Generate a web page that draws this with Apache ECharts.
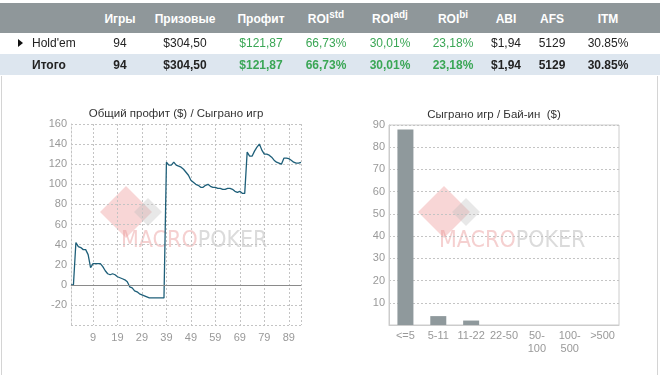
<!DOCTYPE html>
<html><head><meta charset="utf-8">
<script src="https://cdn.jsdelivr.net/npm/echarts@6/dist/echarts.min.js"></script>
<style>
html,body{margin:0;padding:0;background:#fff;width:660px;height:375px;overflow:hidden;}
#chart{position:absolute;left:0;top:0;width:660px;height:375px;}
#tbl{position:absolute;left:0;top:0;width:660px;height:76px;font-family:"Liberation Sans",Arial,sans-serif;font-size:12px;color:#222;}
.row{position:absolute;left:0;width:660px;}
.c{position:absolute;transform:translateX(-50%);white-space:nowrap;}
.hd{top:3px;height:30px;background:#8f979a;color:#fff;font-weight:bold;}
.hd .c{top:9px;}
.r1{top:33px;height:21px;}
.r1 .c{top:3px;}
.r2{top:54px;height:21px;background:#dde6ef;font-weight:bold;}
.r2 .c{top:4px;}
.g{color:#3aa655;}
sup{font-size:10px;line-height:0;}
</style></head>
<body>
<div id="chart"></div>
<div id="tbl"></div>
<script>
// ---- table data ----
const tableCols = ["Игры","Призовые","Профит","ROI|std","ROI|adj","ROI|bi","ABI","AFS","ITM"];
const rowNames = ["Hold'em","Итого"];
const rowValues = ["94","$304,50","$121,87","66,73%","30,01%","23,18%","$1,94","5129","30.85%"];
const greenCols = [2,3,4,5];

// ---- line chart data: cumulative profit by games played ----
const profit = [0,0,42,38,37,35,35,30,17,21,21,21,21,18,14,11,10,11,10,8,7,6,5,3,-2,-3,-6,-7,-9,-10,-11,-12,-13,-13,-13,-13,-13,-13,-13,122,119,119,122,119,118,117,115,112,109,104,102,100,99,97,97,99,100,98,97,97,96,96,95,95,96,96,95,93,92,93,91,91,132,128,128,133,137,140,134,130,130,129,127,124,122,121,120,126,126,125.5,124,122,121,121,121.87];
const xTickLabels = [9,19,29,39,49,59,69,79,89];

// ---- bar chart data ----
const buyinCats = ["<=5","5-11","11-22","22-50","50-\n100","100-\n500",">500"];
const buyinGames = [88,4,2,0,0,0,0];

// ---- build table ----
const colX = [120,185,261,326,390,453,506,552,608];
const tbl = document.getElementById('tbl');
function colHtml(i,txt,cls){
  return '<div class="c '+(cls||'')+'" style="left:'+colX[i]+'px">'+txt+'</div>';
}
let h = '<div class="row hd">';
tableCols.forEach((t,i)=>{
  const p = t.split('|');
  h += colHtml(i, p.length>1 ? p[0]+'<sup>'+p[1]+'</sup>' : p[0]);
});
h += '</div>';
['r1','r2'].forEach((rc,ri)=>{
  h += '<div class="row '+rc+'">';
  if(ri===0) h += '<div style="position:absolute;left:18px;top:6px;width:0;height:0;border-top:4px solid transparent;border-bottom:4px solid transparent;border-left:5px solid #111;"></div>';
  h += '<div style="position:absolute;left:32px;top:'+(ri===0?3:4)+'px">'+rowNames[ri]+'</div>';
  rowValues.forEach((v,i)=>{ h += colHtml(i,v,greenCols.includes(i)?'g':''); });
  h += '</div>';
});
tbl.innerHTML = h;

// ---- chart ----
const games = profit.map((_,i)=>i);
const lastGame = games.length-1;
const chart = echarts.init(document.getElementById('chart'),null,{renderer:'canvas'});
const axisTxt = {color:'#999',fontSize:11,fontFamily:'"Liberation Sans",Arial,sans-serif'};
const dotted = {color:'#c4c4c4',type:[2,2],width:1};
const wmFont = '"Liberation Sans Narrow","DejaVu Sans Condensed",Arial,sans-serif';

function watermark(x,y,tx){
  return [
    {type:'polygon',z:-10,shape:{points:[[x,y-28],[x+26,y-2],[x,y+24],[x-26,y-2]]},style:{fill:'rgba(232,120,120,0.30)'}},
    {type:'polygon',z:-9,shape:{points:[[x+22,y-16],[x+36,y-2],[x+22,y+12],[x+8,y-2]]},style:{fill:'rgba(190,190,190,0.35)'}},
    {type:'text',z:-10,x:tx,y:y+39,style:{text:'{a|MACRO}{b|POKER}',textVerticalAlign:'bottom',
      rich:{a:{fill:'rgba(232,150,150,0.45)',fontSize:23,fontFamily:wmFont},
            b:{fill:'rgba(190,190,190,0.55)',fontSize:23,fontFamily:wmFont}}}}
  ];
}

chart.setOption({
  animation:false,
  graphic:[
    {type:'line',shape:{x1:1.5,y1:76,x2:1.5,y2:375},style:{stroke:'#d4d4d4',lineWidth:1}},
    {type:'line',shape:{x1:657.5,y1:76,x2:657.5,y2:375},style:{stroke:'#d4d4d4',lineWidth:1}},
    {type:'text',x:176,y:114,style:{text:'Общий профит ($) / Сыграно игр',fill:'#333',font:'11.5px "Liberation Sans",Arial,sans-serif',textAlign:'center',textVerticalAlign:'middle'}},
    {type:'text',x:494,y:115,style:{text:'Сыграно игр / Бай-ин  ($)',fill:'#333',font:'11.5px "Liberation Sans",Arial,sans-serif',textAlign:'center',textVerticalAlign:'middle'}},
    ...watermark(126,214,121),
    ...watermark(444,214,439)
  ],
  grid:[
    {left:71,top:124,width:230,height:201,show:false},
    {left:389,top:125,width:230,height:200,show:true,borderColor:'#ccc',borderWidth:1,backgroundColor:'transparent'}
  ],
  xAxis:[
    {type:'category',gridIndex:0,data:games,boundaryGap:false,
      axisLine:{show:true,lineStyle:dotted},axisTick:{show:false},
      axisLabel:Object.assign({},axisTxt,{margin:7,interval:(i)=>xTickLabels.includes(i)}),
      splitLine:{show:true,interval:(i)=>xTickLabels.includes(i)||i===lastGame,lineStyle:dotted}},
    {type:'category',gridIndex:1,data:buyinCats,
      axisLine:{show:true,lineStyle:{color:'#ccc'}},axisTick:{show:false},
      axisLabel:Object.assign({},axisTxt,{margin:4,interval:0,lineHeight:13}),
      splitLine:{show:false}}
  ],
  yAxis:[
    {type:'value',gridIndex:0,min:-40,max:160,interval:20,
      axisLine:{show:true,lineStyle:dotted},axisTick:{show:false},
      axisLabel:Object.assign({},axisTxt,{margin:4,formatter:(v)=>v===-40?'':String(v)}),
      splitLine:{show:true,lineStyle:dotted}},
    {type:'value',gridIndex:1,min:0,max:90,interval:10,
      axisLine:{show:true,lineStyle:{color:'#ccc'}},axisTick:{show:false},
      axisLabel:Object.assign({},axisTxt,{margin:4,formatter:(v)=>v===0?'':String(v)}),
      splitLine:{show:true,lineStyle:dotted}}
  ],
  series:[
    {type:'line',xAxisIndex:0,yAxisIndex:0,data:profit,showSymbol:false,symbol:'none',
      lineStyle:{color:'#1e5f79',width:1.3},z:3,
      markLine:{silent:true,symbol:'none',label:{show:false},lineStyle:{color:'#8a8a8a',type:'solid',width:1},data:[{yAxis:0}]}},
    {type:'bar',xAxisIndex:1,yAxisIndex:1,data:buyinGames,barWidth:16,itemStyle:{color:'#8f999c'}}
  ]
});
</script>
</body></html>
